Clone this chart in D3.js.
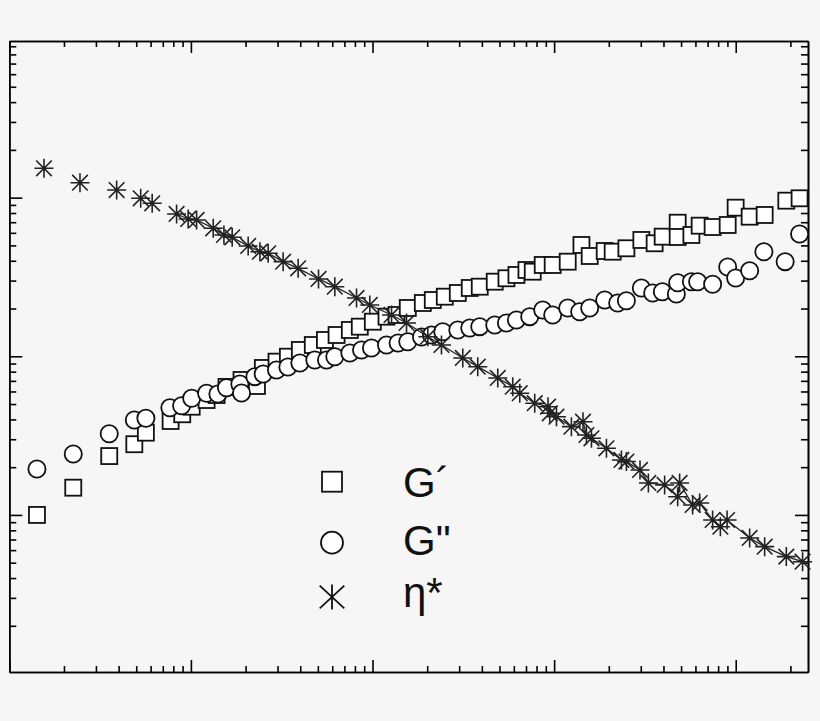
<!DOCTYPE html>
<html>
<head>
<meta charset="utf-8">
<script src="https://cdn.jsdelivr.net/npm/d3@7"></script>
<style>
  body { margin: 0; background: #f6f6f6; }
  svg { display: block; }
  .axis path, .axis line { stroke: #000; stroke-width: 1.6; }
</style>
</head>
<body>
<svg class="graph" width="820" height="721"></svg>
<script>
// axis extents (no labels visible in the picture)
var xDomain = [0.01, 250];
var yDomain = [1.023, 9714];

// G' (squares)
var gpX = [0.0142,0.0225,0.0355,0.0488,0.0565,0.0773,0.0896,0.101,0.122,0.1385,0.157,0.190,0.231,0.249,0.296,0.342,0.398,0.469,0.547,0.634,0.750,0.851,1.004,1.194,1.356,1.564,1.892,2.147,2.50,2.948,3.431,3.895,4.71,5.464,6.201,7.04,7.625,8.654,9.82,11.88,14.14,15.70,18.99,21.01,25.0,30.22,35.77,39.6,47.9,47.9,57.0,63.3,74.6,90.3,99.9,119.3,144.3,189.9,224.7];
var gpY = [10.0,14.85,23.5,27.9,33.0,39.1,43.1,48.1,53.0,57.0,64.1,70.9,65.0,84.4,92.5,99.4,109.6,117.8,126.7,136.2,146.5,153.7,165.2,177.7,182.1,201.6,216.7,226.3,237.5,250.6,269.5,274.6,295.3,310.2,325.5,349.9,341.4,376.3,376.3,394.8,503,428.7,461,456.4,479.5,541,515.7,567.5,695,565,581.6,665.7,653,672.5,864.5,758.6,777.5,957,990.6];

// G'' (circles)
var gppX = [0.0142,0.0225,0.0355,0.0488,0.0565,0.0766,0.0889,0.101,0.122,0.1408,0.157,0.186,0.190,0.225,0.250,0.296,0.342,0.398,0.481,0.558,0.620,0.750,0.870,0.987,1.194,1.383,1.564,1.861,2.112,2.437,2.948,3.431,3.895,4.71,5.464,6.201,7.34,8.654,9.82,11.88,13.83,15.70,18.99,22.39,25.0,30.22,34.88,39.45,47.1,47.9,57.0,61.7,74.6,90.3,99.9,119.3,142.9,187.1,224.7];
var gppY = [19.49,24.23,32.5,39.7,40.7,47.4,48.8,54.4,58.5,57.9,63.4,66.9,58.7,74.4,77.3,81.9,85.6,90.7,94.8,94.8,99.4,104.9,109.6,112.8,117.8,121.3,123.6,132.3,136.2,142.9,146.5,150.8,153.7,157.5,162.2,169.4,177.7,195.8,182.1,201.6,191.0,201.6,226.3,216.7,224.1,269.5,250.6,255.4,247.0,291.0,295.3,295.3,284.3,365.5,311.6,346.4,456.4,394.8,590];

// eta* (stars, joined by a thin line where the points are dense)
var etaX = [0.01552,0.0245,0.0390,0.0529,0.0612,0.0834,0.0966,0.1075,0.1327,0.152,0.1688,0.2067,0.2398,0.2664,0.322,0.3895,0.5044,0.620,0.8166,0.966,1.273,1.539,2.016,2.397,3.14,3.797,4.894,5.918,6.468,7.82,9.256,9.46,10.30,12.45,14.42,15.06,16.05,19.41,23.47,25.0,29.71,33.04,40.6,47.9,49.1,57.9,63.3,74.6,82.3,89.6,119.3,144.3,189.9,233.4];
var etaY = [1531,1242,1117,990.6,921.3,788.9,733.7,723.1,641,581.6,562.3,495.8,456.4,446.0,394.8,358.6,307.2,274.6,233.1,210.6,182.1,162.2,132.9,117.8,97.6,86.0,73.0,64.3,58.5,50.6,48.1,43.7,41.6,36.0,38.7,31.9,30.4,26.3,22.2,21.7,19.2,15.9,15.45,13.03,15.9,11.55,11.89,9.29,8.43,9.29,7.16,6.31,5.46,5.07];
var etaLineStart = 5;

var legendNames = ["G\u00b4", "G\"", "\u03b7*"];

var svg = d3.select('svg.graph'),
  mLeft = 9.3, mRight = 808, mTop = 41, mBottom = 672;

svg.append("rect").attr("width", 820).attr("height", 721).attr("fill", "#f6f6f6");

var x = d3.scaleLog().domain(xDomain).range([mLeft, mRight]);
var y = d3.scaleLog().domain(yDomain).range([mBottom, mTop]);

var isMajor = function(v) { return Math.abs(Math.log10(v) - Math.round(Math.log10(v))) < 1e-6; };
var xMinor = x.ticks().filter(function(v) { return !isMajor(v); }),
  xMajor = x.ticks().filter(isMajor),
  yMinor = y.ticks().filter(function(v) { return !isMajor(v); }),
  yMajor = y.ticks().filter(isMajor);

var addAxis = function(axisFn, scale, tr, major, minor, bigLen, smallLen) {
  svg.append("g").attr("class", "axis").attr("transform", tr)
    .call(axisFn(scale).tickValues(minor).tickSize(-smallLen).tickSizeOuter(0).tickFormat(""));
  svg.append("g").attr("class", "axis").attr("transform", tr)
    .call(axisFn(scale).tickValues(major).tickSize(-bigLen).tickSizeOuter(0).tickFormat(""));
};
addAxis(d3.axisBottom, x, "translate(0," + mBottom + ")", xMajor, xMinor, 12, 6);
addAxis(d3.axisTop, x, "translate(0," + mTop + ")", xMajor, xMinor, 12, 6);
addAxis(d3.axisLeft, y, "translate(" + mLeft + ",0)", yMajor, yMinor, 13, 7);
addAxis(d3.axisRight, y, "translate(" + mRight + ",0)", yMajor, yMinor, 13, 7);

// asterisk: vertical arm, two diagonals, optional horizontal arm
var starPath = function(r, dx, dy, horizontal) {
  var p = "M0," + (-r) + "L0," + r +
    "M" + (-dx) + "," + (-dy) + "L" + dx + "," + dy +
    "M" + (-dx) + "," + dy + "L" + dx + "," + (-dy);
  if (horizontal) p += "M" + (-r) + ",0L" + r + ",0";
  return p;
};

var plot = svg.append("g");

var sq = 16;
plot.append("g").selectAll("rect")
  .data(d3.zip(gpX, gpY))
  .enter().append("rect")
    .attr("x", function(d) { return x(d[0]) - sq / 2; })
    .attr("y", function(d) { return y(d[1]) - sq / 2; })
    .attr("width", sq).attr("height", sq)
    .attr("fill", "#fff").attr("stroke", "#111").attr("stroke-width", 1.8);

plot.append("g").selectAll("circle")
  .data(d3.zip(gppX, gppY))
  .enter().append("circle")
    .attr("cx", function(d) { return x(d[0]); })
    .attr("cy", function(d) { return y(d[1]); })
    .attr("r", 8.6)
    .attr("fill", "#fff").attr("stroke", "#111").attr("stroke-width", 1.8);

var etaLine = d3.line()
  .x(function(d) { return x(d[0]); })
  .y(function(d) { return y(d[1]); });

plot.append("path")
  .datum(d3.zip(etaX, etaY).slice(etaLineStart))
  .attr("d", etaLine)
  .attr("fill", "none").attr("stroke", "#222").attr("stroke-width", 1.3);

plot.append("g").selectAll("path")
  .data(d3.zip(etaX, etaY))
  .enter().append("path")
    .attr("transform", function(d) { return "translate(" + x(d[0]) + "," + y(d[1]) + ")"; })
    .attr("d", starPath(9.5, 7.8, 7.8, true))
    .attr("fill", "none").attr("stroke", "#222").attr("stroke-width", 1.6);

// legend
var lg = svg.append("g").attr("transform", "translate(332,0)");
lg.append("rect").attr("x", -10).attr("y", 471.7).attr("width", 20).attr("height", 20)
  .attr("fill", "#fff").attr("stroke", "#111").attr("stroke-width", 1.8);
lg.append("circle").attr("cx", 0).attr("cy", 542.7).attr("r", 11)
  .attr("fill", "#fff").attr("stroke", "#111").attr("stroke-width", 1.8);
lg.append("path").attr("transform", "translate(0,597)").attr("d", starPath(12.5, 12.3, 11.3, false))
  .attr("fill", "none").attr("stroke", "#111").attr("stroke-width", 1.8);

var legendY = [497, 555, 607];
svg.append("g").selectAll("text")
  .data(legendNames)
  .enter().append("text")
    .attr("x", 403)
    .attr("y", function(d, i) { return legendY[i]; })
    .attr("font-family", "'Liberation Sans', Arial, sans-serif")
    .attr("font-size", 42)
    .attr("fill", "#111")
    .text(function(d) { return d; });
</script>
</body>
</html>
